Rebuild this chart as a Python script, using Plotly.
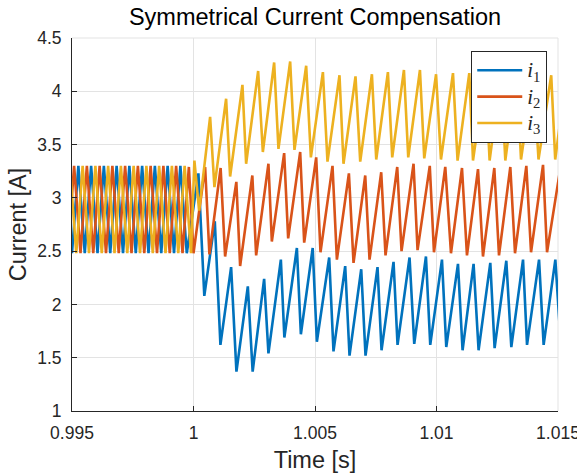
import plotly.graph_objects as go

# Phase currents: vertex times [s] and values [A] of each triangular ripple
t1 = [0.994738, 0.995000, 0.995262, 0.995525, 0.995787, 0.996050, 0.996312, 0.996574,
      0.996836, 0.997099, 0.997361, 0.997624, 0.997886, 0.998149, 0.998411, 0.998673,
      0.998935, 0.999198, 0.999460, 0.999723,
      1.000202, 1.000445, 1.000877, 1.001108, 1.001548, 1.001767, 1.002236, 1.002434,
      1.002907, 1.003084, 1.003595, 1.003739, 1.004254, 1.004419, 1.004905, 1.005077,
      1.005584, 1.005761, 1.006243, 1.006420, 1.006902, 1.007079, 1.007573, 1.007738,
      1.008232, 1.008397, 1.008891, 1.009084, 1.009566, 1.009743, 1.010225, 1.010402,
      1.010884, 1.011073, 1.011526, 1.011732, 1.012214, 1.012391, 1.012873, 1.013079,
      1.013561, 1.013725, 1.014220, 1.014409, 1.014891, 1.015117]
i1 = [3.30, 2.48, 3.30, 2.48, 3.30, 2.48, 3.30, 2.48,
      3.30, 2.48, 3.30, 2.48, 3.30, 2.48, 3.30, 2.48,
      3.30, 2.48, 3.30, 2.48,
      3.23, 2.08, 2.78, 1.62, 2.35, 1.37, 2.17, 1.37,
      2.24, 1.54, 2.42, 1.69, 2.53, 1.72, 2.53, 1.65,
      2.44, 1.56, 2.36, 1.52, 2.33, 1.52, 2.35, 1.57,
      2.40, 1.62, 2.44, 1.63, 2.45, 1.62, 2.42, 1.60,
      2.38, 1.57, 2.38, 1.57, 2.39, 1.59, 2.41, 1.60,
      2.42, 1.62, 2.42, 1.62, 2.42, 1.62]

t2 = [0.994563, 0.994825, 0.995087, 0.995350, 0.995612, 0.995875, 0.996137, 0.996399,
      0.996662, 0.996924, 0.997186, 0.997449, 0.997711, 0.997974, 0.998236, 0.998498,
      0.998761, 0.999023, 0.999285, 0.999548, 0.999810,
      1.000000, 1.000478, 1.000655, 1.001116, 1.001301, 1.001763, 1.001919,
      1.002421, 1.002578, 1.003084, 1.003224, 1.003731, 1.003896, 1.004390, 1.004555,
      1.005049, 1.005226, 1.005720, 1.005901, 1.006395, 1.006585, 1.007067, 1.007244,
      1.007725, 1.007902, 1.008384, 1.008561, 1.009055, 1.009220, 1.009723, 1.009896,
      1.010361, 1.010596, 1.011049, 1.011254, 1.011708, 1.011913, 1.012379, 1.012572,
      1.013038, 1.013231, 1.013697, 1.013890, 1.014384, 1.014549, 1.015112]
i2 = [3.30, 2.48, 3.30, 2.48, 3.30, 2.48, 3.30, 2.48,
      3.30, 2.48, 3.30, 2.48, 3.30, 2.48, 3.30, 2.48,
      3.30, 2.48, 3.30, 2.48, 3.29,
      2.48, 3.29, 2.47, 3.28, 2.45, 3.15, 2.36,
      3.21, 2.46, 3.32, 2.59, 3.42, 2.62, 3.43, 2.58,
      3.38, 2.49, 3.30, 2.42, 3.23, 2.39, 3.21, 2.42,
      3.24, 2.46, 3.29, 2.50, 3.32, 2.51, 3.30, 2.49,
      3.29, 2.48, 3.28, 2.46, 3.27, 2.45, 3.28, 2.46,
      3.29, 2.48, 3.30, 2.49, 3.31, 2.49, 3.30]

t3 = [0.994913, 0.995175, 0.995438, 0.995700, 0.995963, 0.996225, 0.996487, 0.996749,
      0.997012, 0.997274, 0.997537, 0.997799, 0.998062, 0.998324, 0.998586, 0.998848,
      0.999111, 0.999373, 0.999636, 0.999898,
      1.000037, 1.000231, 1.000684, 1.000861, 1.001342, 1.001507, 1.002014, 1.002166,
      1.002660, 1.002854, 1.003319, 1.003496, 1.003978, 1.004155, 1.004637, 1.004830,
      1.005325, 1.005514, 1.006008, 1.006173, 1.006667, 1.006861, 1.007342, 1.007520,
      1.008001, 1.008178, 1.008660, 1.008837, 1.009319, 1.009496, 1.009982, 1.010184,
      1.010678, 1.010867, 1.011349, 1.011502, 1.012008, 1.012185, 1.012655, 1.012832,
      1.013301, 1.013478, 1.013985, 1.014198, 1.014721, 1.014885, 1.015344]
i3 = [3.30, 2.48, 3.30, 2.48, 3.30, 2.48, 3.30, 2.48,
      3.30, 2.48, 3.30, 2.48, 3.30, 2.48, 3.30, 2.48,
      3.30, 2.48, 3.30, 2.48,
      3.35, 2.88, 3.76, 3.10, 3.93, 3.20, 4.06, 3.32,
      4.19, 3.43, 4.27, 3.46, 4.28, 3.45, 4.24, 3.38,
      4.18, 3.34, 4.15, 3.32, 4.14, 3.34, 4.16, 3.36,
      4.18, 3.38, 4.20, 3.38, 4.20, 3.37, 4.16, 3.36,
      4.17, 3.35, 4.17, 3.35, 4.17, 3.35, 4.17, 3.35,
      4.17, 3.36, 4.17, 3.36, 4.15, 3.36, 4.16]

series_names = ["<i>i</i><sub>1</sub>", "<i>i</i><sub>2</sub>", "<i>i</i><sub>3</sub>"]
series_colors = ["#0072BD", "#D95319", "#EDB120"]

x_ticks = [0.995, 1.0, 1.005, 1.01, 1.015]
x_tick_labels = ["0.995", "1", "1.005", "1.01", "1.015"]
y_ticks = [1, 1.5, 2, 2.5, 3, 3.5, 4, 4.5]
y_tick_labels = ["1", "1.5", "2", "2.5", "3", "3.5", "4", "4.5"]

AXIS = "#262626"
GRID = "#e3e3e3"
SANS = "Liberation Sans, Arial, Helvetica, sans-serif"

fig = go.Figure()
for t, i, name, color in zip([t1, t2, t3], [i1, i2, i3], series_names, series_colors):
    fig.add_trace(go.Scatter(x=t, y=i, mode="lines", line=dict(color=color, width=2.6),
                             name="<span style='font-size:21px'>" + name + "</span>"))

fig.update_layout(
    width=577, height=473,
    margin=dict(l=72, r=19, t=38, b=62, autoexpand=False),
    paper_bgcolor="white", plot_bgcolor="white",
    font=dict(family=SANS, size=17.5, color=AXIS),
    title=dict(text="Symmetrical Current Compensation", x=0.5, xref="paper",
               y=1 - 17 / 473, yref="container", yanchor="middle", xanchor="center",
               font=dict(family=SANS, size=23.5, color="#000000")),
    showlegend=True,
    legend=dict(x=0.8215, y=0.965, xanchor="left", yanchor="top",
                bgcolor="white", bordercolor=AXIS, borderwidth=1,
                font=dict(family="Liberation Serif, DejaVu Serif, serif", size=18, color=AXIS),
                itemwidth=45, tracegroupgap=0),
    xaxis=dict(range=[0.995, 1.015], tickvals=x_ticks, ticktext=x_tick_labels,
               showgrid=True, gridcolor=GRID, gridwidth=1,
               showline=True, linecolor=AXIS, linewidth=1,
               ticks="inside", ticklen=5, tickcolor=AXIS, ticklabelstandoff=6,
               ticklabeloverflow="allow", zeroline=False, automargin=False,
               title=dict(text="Time [s]", standoff=9,
                          font=dict(family=SANS, size=23.5, color=AXIS))),
    yaxis=dict(range=[1, 4.5], tickvals=y_ticks, ticktext=y_tick_labels,
               showgrid=True, gridcolor=GRID, gridwidth=1,
               showline=True, linecolor=AXIS, linewidth=1,
               ticks="inside", ticklen=5, tickcolor=AXIS, ticklabelstandoff=6,
               ticklabeloverflow="allow", zeroline=False, automargin=False,
               title=dict(text="Current [A]", standoff=3,
                          font=dict(family=SANS, size=23.5, color=AXIS))),
)

# light frame on the top and right sides of the axes box
fig.add_shape(type="line", xref="paper", yref="paper", x0=0, x1=1, y0=1, y1=1,
              line=dict(color=GRID, width=1), layer="below")
fig.add_shape(type="line", xref="paper", yref="paper", x0=1, x1=1, y0=0, y1=1,
              line=dict(color=GRID, width=1), layer="below")

fig.write_html("out.html")
